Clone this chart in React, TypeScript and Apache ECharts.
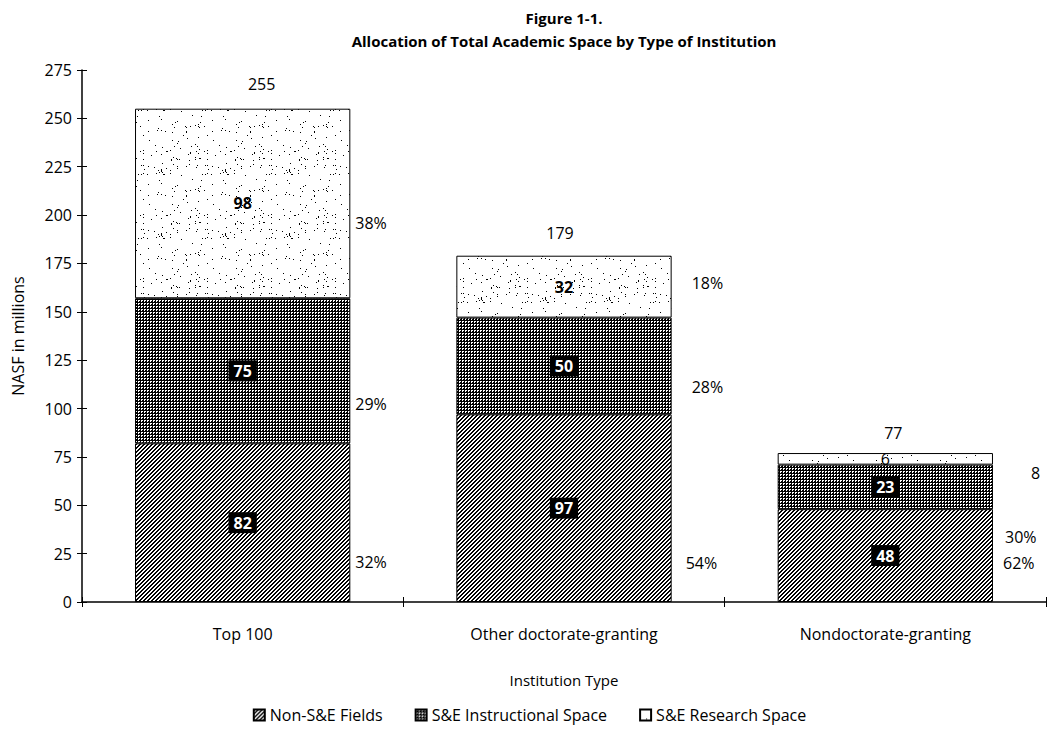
import React, { useEffect, useRef } from "react";
import * as echarts from "echarts";

const categories = ["Top 100", "Other doctorate-granting", "Nondoctorate-granting"];
const seriesNames = ["Non-S&E Fields", "S&E Instructional Space", "S&E Research Space"];
const nonSE = [82, 97, 48];
const instructional = [75, 50, 23];
const research = [98, 32, 6];
const totals = [255, 179, 77];
const pctNon = ["32%", "54%", "62%"];
const pctInst = ["29%", "28%", "30%"];
const pctRes = ["38%", "18%", "8"];
const yMin = 0;
const yMax = 275;
const yInterval = 25;

const FONT = "'Open Sans', sans-serif";

function makeTile(w: number, h: number, draw: (ctx: CanvasRenderingContext2D) => void, bg = "#fff") {
  const c = document.createElement("canvas");
  c.width = w;
  c.height = h;
  const ctx = c.getContext("2d") as CanvasRenderingContext2D;
  ctx.fillStyle = bg;
  ctx.fillRect(0, 0, w, h);
  ctx.fillStyle = bg === "#fff" ? "#000" : "#fff";
  draw(ctx);
  return { image: c, repeat: "repeat", imageWidth: w, imageHeight: h } as any;
}

export default function App() {
  const ref = useRef<HTMLDivElement>(null);
  useEffect(() => {
    if (!ref.current) return;
    const chart = echarts.init(ref.current, null, { renderer: "svg" });

    const hatch = makeTile(4, 4, (ctx) => {
      for (let y = 0; y < 4; y++) {
        ctx.fillRect((3 - y + 4) % 4, y, 1, 1);
        ctx.fillRect((4 - y) % 4, y, 1, 1);
      }
    });
    const dots = makeTile(3, 3, (ctx) => {
      ctx.fillRect(0, 0, 1, 1);
      ctx.fillRect(1, 0, 1, 1);
      ctx.fillRect(0, 1, 1, 1);
    }, "#000");
    const speckle = makeTile(64, 64, (ctx) => {
      let s = 0x9e3779b9 | 0;
      const next = () => {
        s ^= s << 13;
        s ^= s >>> 17;
        s ^= s << 5;
        return (s >>> 0) / 4294967296;
      };
      for (let i = 0; i < 100; i++) {
        const x = Math.floor(next() * 64);
        const y = Math.floor(next() * 64);
        ctx.fillRect(x, y, 1, 1);
      }
    });
    const patterns = [hatch, dots, speckle];
    const values = [nonSE, instructional, research];
    const pcts = [pctNon, pctInst, pctRes];

    const pctOffsets = [
      [[5, 39], [14, 55], [10, 7]],
      [[5, 33], [20, 21], [12, 50]],
      [[5, 20], [20, -4], [38, 14]],
    ];
    const totalOffsets = [[19, -12], [-4, -10], [8, -7]];

    const boxLabel = {
      show: true,
      position: "inside",
      color: "#fff",
      backgroundColor: "#000",
      fontWeight: "bold",
      fontSize: 16,
      fontFamily: FONT,
      padding: [3, 5, 2, 5],
    };
    const plainLabel = {
      show: true,
      position: "inside",
      color: "#000",
      fontWeight: "bold",
      fontSize: 16,
      fontFamily: FONT,
    };

    const mainSeries = values.map((arr, si) => ({
      name: seriesNames[si],
      type: "bar",
      stack: "main",
      barWidth: "67%",
      barGap: "-100%",
      itemStyle: { color: patterns[si], borderColor: "#000", borderWidth: 1 },
      label: si === 2 ? plainLabel : boxLabel,
      data: arr.map((v, i) =>
        si === 2 && i === 2 ? { value: v, label: { fontWeight: "normal" } } : v
      ),
    }));

    const pctSeries = values.map((arr, si) => ({
      name: "pct" + si,
      type: "bar",
      stack: "pct",
      barWidth: "67%",
      barGap: "-100%",
      silent: true,
      itemStyle: { color: "rgba(0,0,0,0)" },
      data: arr.map((v, i) => ({
        value: v,
        label: {
          show: true,
          position: "right",
          distance: 0,
          offset: pctOffsets[si][i],
          formatter: pcts[si][i],
          color: "#000",
          fontSize: 16,
          fontFamily: FONT,
        },
      })),
    }));

    const totalSeries = {
      name: "total",
      type: "bar",
      stack: "tot",
      barWidth: "67%",
      barGap: "-100%",
      silent: true,
      itemStyle: { color: "rgba(0,0,0,0)" },
      data: totals.map((v, i) => ({
        value: v,
        label: {
          show: true,
          position: "top",
          offset: totalOffsets[i],
          color: "#000",
          fontSize: 16,
          fontFamily: FONT,
        },
      })),
    };

    chart.setOption({
      animation: false,
      backgroundColor: "#fff",
      textStyle: { fontFamily: FONT, color: "#000" },
      graphic: [
        {
          type: "text",
          x: 564,
          y: 18,
          style: { text: "Figure 1-1.", align: "center", verticalAlign: "middle", font: `bold 15px ${FONT}`, fill: "#000" },
        },
        {
          type: "text",
          x: 564,
          y: 41,
          style: {
            text: "Allocation of Total Academic Space by Type of Institution",
            align: "center",
            verticalAlign: "middle",
            font: `bold 15px ${FONT}`,
            fill: "#000",
          },
        },
      ],
      legend: {
        data: seriesNames,
        bottom: 24,
        left: "center",
        itemWidth: 11,
        itemHeight: 11,
        itemGap: 32,
        icon: "rect",
        textStyle: { fontSize: 16, fontFamily: FONT, color: "#000" },
        selectedMode: false,
      },
      grid: { left: 82, right: 13, top: 70, bottom: 150 },
      xAxis: [
        {
          type: "category",
          data: categories,
          name: "Institution Type",
          nameLocation: "middle",
          nameGap: 70,
          nameTextStyle: { fontSize: 15, fontFamily: FONT, color: "#000" },
          axisLine: { lineStyle: { color: "#000", width: 1.5 } },
          axisTick: { show: true, interval: 0, length: 5, lineStyle: { color: "#000" } },
          axisLabel: { interval: 0, margin: 24, fontSize: 16, fontFamily: FONT, color: "#000" },
        },
        {
          type: "category",
          data: categories,
          position: "bottom",
          axisLine: { show: false },
          axisTick: { show: true, inside: true, interval: 0, length: 5, lineStyle: { color: "#000" } },
          axisLabel: { show: false },
        },
      ],
      yAxis: [
        {
          type: "value",
          min: yMin,
          max: yMax,
          interval: yInterval,
          name: "NASF in millions",
          nameLocation: "middle",
          nameGap: 56,
          nameTextStyle: { fontSize: 16, fontFamily: FONT, color: "#000" },
          axisLine: { show: true, lineStyle: { color: "#000", width: 1.5 } },
          axisTick: { show: true, length: 5, lineStyle: { color: "#000" } },
          axisLabel: { fontSize: 16, fontFamily: FONT, color: "#000", margin: 10 },
          splitLine: { show: false },
        },
        {
          type: "value",
          min: yMin,
          max: yMax,
          interval: yInterval,
          position: "left",
          axisLine: { show: false },
          axisTick: { show: true, inside: true, length: 5, lineStyle: { color: "#000" } },
          axisLabel: { show: false },
          splitLine: { show: false },
        },
      ],
      series: [...mainSeries, ...pctSeries, totalSeries],
    } as any);

    return () => chart.dispose();
  }, []);

  return <div ref={ref} style={{ width: 1059, height: 752, margin: -8 }} />;
}
